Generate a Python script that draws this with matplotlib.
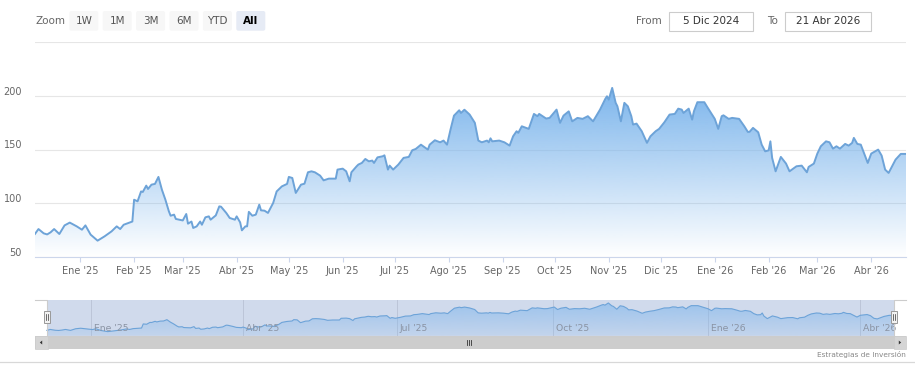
import matplotlib
matplotlib.use("Agg")
import matplotlib.pyplot as plt
import matplotlib.dates as mdates
import matplotlib.colors as mcolors
import matplotlib.transforms as mtransforms
from matplotlib.patches import Rectangle, FancyBboxPatch, Polygon
import numpy as np
import pandas as pd

W, H = 915, 371
MESES = ["Ene", "Feb", "Mar", "Abr", "May", "Jun",
         "Jul", "Ago", "Sep", "Oct", "Nov", "Dic"]

# price series
dates = [
    "2024-12-06", "2024-12-08", "2024-12-11", "2024-12-13", "2024-12-15", "2024-12-17",
    "2024-12-20", "2024-12-23", "2024-12-26", "2024-12-30", "2025-01-02", "2025-01-04",
    "2025-01-07", "2025-01-11", "2025-01-15", "2025-01-19", "2025-01-22", "2025-01-24",
    "2025-01-26", "2025-01-31", "2025-02-01", "2025-02-03", "2025-02-05", "2025-02-06",
    "2025-02-08", "2025-02-09", "2025-02-11", "2025-02-13", "2025-02-15", "2025-02-17",
    "2025-02-19", "2025-02-21", "2025-02-22", "2025-02-24", "2025-02-25", "2025-03-01",
    "2025-03-03", "2025-03-04", "2025-03-06", "2025-03-07", "2025-03-09", "2025-03-11",
    "2025-03-12", "2025-03-14", "2025-03-16", "2025-03-17", "2025-03-20", "2025-03-22",
    "2025-03-23", "2025-03-26", "2025-03-28", "2025-03-31", "2025-04-01", "2025-04-03",
    "2025-04-04", "2025-04-06", "2025-04-07", "2025-04-08", "2025-04-10", "2025-04-12",
    "2025-04-14", "2025-04-15", "2025-04-17", "2025-04-19", "2025-04-22", "2025-04-24",
    "2025-04-27", "2025-04-30", "2025-05-01", "2025-05-03", "2025-05-05", "2025-05-08",
    "2025-05-10", "2025-05-12", "2025-05-14", "2025-05-16", "2025-05-19", "2025-05-21",
    "2025-05-24", "2025-05-28", "2025-05-29", "2025-06-01", "2025-06-03", "2025-06-05",
    "2025-06-06", "2025-06-09", "2025-06-10", "2025-06-12", "2025-06-14", "2025-06-16",
    "2025-06-18", "2025-06-19", "2025-06-21", "2025-06-24", "2025-06-25", "2025-06-27",
    "2025-06-28", "2025-06-30", "2025-07-03", "2025-07-06", "2025-07-09", "2025-07-11",
    "2025-07-13", "2025-07-16", "2025-07-20", "2025-07-21", "2025-07-24", "2025-07-27",
    "2025-07-29", "2025-07-31", "2025-08-02", "2025-08-04", "2025-08-07", "2025-08-08",
    "2025-08-10", "2025-08-13", "2025-08-16", "2025-08-18", "2025-08-20", "2025-08-23",
    "2025-08-24", "2025-08-25", "2025-08-26", "2025-08-30", "2025-09-02", "2025-09-05",
    "2025-09-07", "2025-09-09", "2025-09-10", "2025-09-12", "2025-09-16", "2025-09-19",
    "2025-09-21", "2025-09-22", "2025-09-26", "2025-09-28", "2025-10-02", "2025-10-04",
    "2025-10-06", "2025-10-09", "2025-10-11", "2025-10-14", "2025-10-17", "2025-10-20",
    "2025-10-23", "2025-10-27", "2025-10-30", "2025-10-31", "2025-11-01", "2025-11-03",
    "2025-11-05", "2025-11-06", "2025-11-08", "2025-11-10", "2025-11-12", "2025-11-14",
    "2025-11-15", "2025-11-17", "2025-11-20", "2025-11-23", "2025-11-25", "2025-11-28",
    "2025-11-30", "2025-12-03", "2025-12-06", "2025-12-09", "2025-12-11", "2025-12-13",
    "2025-12-14", "2025-12-17", "2025-12-19", "2025-12-20", "2025-12-22", "2025-12-26",
    "2025-12-28", "2026-01-01", "2026-01-03", "2026-01-05", "2026-01-06", "2026-01-09",
    "2026-01-11", "2026-01-15", "2026-01-18", "2026-01-20", "2026-01-21", "2026-01-23",
    "2026-01-26", "2026-01-28", "2026-01-30", "2026-02-01", "2026-02-02", "2026-02-03",
    "2026-02-05", "2026-02-08", "2026-02-11", "2026-02-13", "2026-02-17", "2026-02-20",
    "2026-02-23", "2026-02-24", "2026-02-27", "2026-03-01", "2026-03-03", "2026-03-06",
    "2026-03-08", "2026-03-10", "2026-03-12", "2026-03-14", "2026-03-17", "2026-03-19",
    "2026-03-21", "2026-03-22", "2026-03-24", "2026-03-26", "2026-03-30", "2026-04-01",
    "2026-04-05", "2026-04-07", "2026-04-09", "2026-04-11", "2026-04-15", "2026-04-18",
    "2026-04-21",
]
prices = [
    71.5, 76, 72, 71, 73, 76,
    71.4, 79.4, 82, 78.5, 75.4, 79.4,
    70.8, 65.2, 69.2, 73.8, 78.5, 76,
    80, 83, 103.3, 101.8, 111, 110.5,
    116.4, 113.3, 117.3, 118, 124.5, 112.6,
    103.3, 92.5, 88.4, 89.4, 85.4, 84,
    90, 81, 83, 77, 78.5, 83,
    80, 86.9, 87.8, 84.7, 88.7, 97.1,
    96.8, 91, 86.3, 84.7, 87.8, 82.2,
    74.8, 78.5, 78.5, 92, 88.4, 89.4,
    98.7, 93.4, 93.1, 91, 100.3, 111,
    115.7, 118, 124.5, 123.5, 109.6, 117.3,
    118.2, 128.8, 129.7, 128.8, 125.7, 121.3,
    122.9, 122.9, 131.3, 132.2, 129.7, 120.4,
    128.8, 134.4, 136, 137.5, 141.2, 139,
    139.7, 137.5, 142.7, 143.7, 144.6, 131.3,
    135, 131.3, 136, 142.2, 143.1, 149.3,
    150.5, 154.5, 149.9, 154.5, 158.6, 156.7,
    158.3, 154.5, 168.5, 181.5, 186.5, 184,
    187, 182.5, 174.8, 158.3, 156.7, 158.3,
    156.7, 160.4, 157.6, 158.3, 156.7, 153.6,
    162.3, 167, 165.5, 171.6, 169.2, 183.1,
    181, 183.1, 178.8, 179.4, 187.1, 174.8,
    181.5, 185.5, 176.2, 179.4, 178.5, 181,
    176.2, 187.1, 197, 199.5, 196.4, 207.3,
    193.4, 190.2, 176.2, 193.4, 190.2, 181,
    173.2, 174.1, 167, 156.2, 162.3, 167,
    169.2, 175.3, 182.5, 183.1, 188, 187.1,
    184, 188, 177.8, 185.5, 194, 194,
    188.7, 178.5, 169.2, 181, 181.8, 178.5,
    179.4, 178.5, 171.6, 166.4, 166.4, 170.1,
    166, 154.5, 148.3, 149.2, 157.6, 142.2,
    129.7, 143.1, 136.9, 129.7, 134.4, 135,
    128.8, 133.8, 136.9, 146.2, 153, 157.6,
    156.7, 150.8, 153, 150.8, 155.2, 153.6,
    156.1, 160.8, 155.2, 154.5, 137.5, 146.2,
    149.9, 144.3, 131.3, 128.2, 140.6, 145.9,
    145.9,
]

zoom_buttons = ["1W", "1M", "3M", "6M", "YTD", "All"]
selected_button = "All"
range_from = "5 Dic 2024"
range_to = "21 Abr 2026"
y_ticks = [50, 100, 150, 200, 250]
main_ticks = pd.date_range("2025-01-01", "2026-04-01", freq="MS")
nav_ticks = pd.date_range("2025-01-01", "2026-04-01", freq="QS")
nav_range = ("2024-11-29", "2026-04-28")
credits = "Estrategias de Inversión"

SERIES = "#7cb5ec"
LINE = "#6da3d8"
GRID = "#e6e6e6"
AXIS = "#ccd6eb"
LABEL = "#666666"


def month_label(d):
    return f"{MESES[d.month - 1]} '{d.strftime('%y')}"


def px_box(x0, y0, x1, y1):
    return [x0 / W, 1 - y1 / H, (x1 - x0) / W, (y1 - y0) / H]


def gradient_area(ax, x, y, base, a_top, a_bot, z):
    verts = [(x[0], base)] + list(zip(x, y)) + [(x[-1], base)]
    clip = Polygon(verts, closed=True, fc="none", ec="none", transform=ax.transData)
    ax.add_patch(clip)
    grad = np.zeros((256, 1, 4))
    grad[..., :3] = mcolors.to_rgb(SERIES)
    grad[..., 3] = np.linspace(a_top, a_bot, 256)[:, None]
    im = ax.imshow(grad, aspect="auto", origin="upper", zorder=z,
                   extent=[x[0], x[-1], base, max(y)], interpolation="bilinear")
    im.set_clip_path(clip)


x = mdates.date2num(pd.to_datetime(dates))
y = np.array(prices)

fig = plt.figure(figsize=(W / 100, H / 100), dpi=100)

# ---- main chart
ax = fig.add_axes(px_box(35, 42, 906, 257))
gradient_area(ax, x, y, 50, 1.0, 0.0, 1)
ax.plot(x, y, color=LINE, lw=1.4, zorder=3, solid_joinstyle="round")
ax.set_xlim(x[0], x[-1])
ax.set_ylim(50, 250)

for v in y_ticks:
    ax.axhline(v, color=GRID, lw=0.8, zorder=0)
up = mtransforms.ScaledTranslation(0, 0.04, fig.dpi_scale_trans)
for v in y_ticks[:-1]:
    ax.text(-13 / 871, v, str(v), transform=ax.get_yaxis_transform() + up,
            ha="right", va="center", fontsize=7, color=LABEL)
ax.set_yticks([])

ax.set_xticks(mdates.date2num(main_ticks))
ax.set_xticklabels([month_label(d) for d in main_ticks])
ax.tick_params(axis="x", length=3.6, width=0.8, color=AXIS, pad=3,
               labelsize=7, labelcolor=LABEL)
for s in ["top", "left", "right"]:
    ax.spines[s].set_visible(False)
ax.spines["bottom"].set_color(AXIS)
ax.spines["bottom"].set_linewidth(0.8)

# ---- navigator
nav = fig.add_axes(px_box(35, 300, 906, 335.7))
nav.set_axis_off()
nav.axvspan(x[0], x[-1], color=(102 / 255, 133 / 255, 194 / 255, 0.3), lw=0, zorder=0)
for t in mdates.date2num(nav_ticks):
    nav.axvline(t, color="#bcc5d8", lw=0.7, zorder=1)
gradient_area(nav, x, y, 45, 0.6, 0.15, 2)
nav.plot(x, y, color=LINE, lw=0.8, zorder=3)
right = mtransforms.ScaledTranslation(0.03, 0, fig.dpi_scale_trans)
for d in nav_ticks:
    nav.text(mdates.date2num(d), 0.19, month_label(d), transform=nav.get_xaxis_transform() + right,
             ha="left", va="center", fontsize=6.7, color="#8a93a3", zorder=4)
nav.set_xlim(mdates.date2num(pd.to_datetime(nav_range[0])), mdates.date2num(pd.to_datetime(nav_range[1])))
nav.set_ylim(45, 222)

# ---- overlay in pixel coordinates
ui = fig.add_axes([0, 0, 1, 1])
ui.set_xlim(0, W)
ui.set_ylim(H, 0)
ui.set_axis_off()

fig.canvas.draw()
lo = nav.transData.transform((x[0], 100))[0]
hi = nav.transData.transform((x[-1], 100))[0]

# range selector
ui.text(36, 20.5, "Zoom", ha="left", va="center", fontsize=7.5, color=LABEL)
for i, lbl in enumerate(zoom_buttons):
    bx = 69.3 + i * 33.4
    sel = lbl == selected_button
    ui.add_patch(FancyBboxPatch((bx, 11), 29, 19.7, boxstyle="round,pad=0,rounding_size=2",
                                fc="#e6ebf5" if sel else "#f7f7f7", ec="none"))
    ui.text(bx + 14.5, 20.8, lbl, ha="center", va="center", fontsize=7.5,
            color="#000000" if sel else "#555555", fontweight="bold" if sel else "normal")

ui.text(662, 20.8, "From", ha="right", va="center", fontsize=7.5, color=LABEL)
ui.add_patch(Rectangle((669, 11.7), 84, 19, fc="white", ec="#cccccc", lw=0.8))
ui.text(711, 21, range_from, ha="center", va="center", fontsize=7.5, color="#333333")
ui.text(778, 20.8, "To", ha="right", va="center", fontsize=7.5, color=LABEL)
ui.add_patch(Rectangle((785, 11.7), 86, 19, fc="white", ec="#cccccc", lw=0.8))
ui.text(828, 21, range_to, ha="center", va="center", fontsize=7.5, color="#333333")

# navigator outline + handles
ui.plot([35, lo, lo, hi, hi, 906], [300, 300, 335.7, 335.7, 300, 300],
        color="#cccccc", lw=0.8)
for hx in (lo, hi):
    ui.add_patch(Rectangle((hx - 2.8, 310.7), 5.6, 12.3, fc="#f2f2f2", ec="#999999", lw=0.7, zorder=5))
    ui.plot([hx - 0.8, hx - 0.8], [313.5, 320.2], color="#333333", lw=0.5, zorder=6)
    ui.plot([hx + 0.8, hx + 0.8], [313.5, 320.2], color="#333333", lw=0.5, zorder=6)

# scrollbar
ui.add_patch(Rectangle((35, 335.7), 871, 13.6, fc="#cdcdcd", ec="none"))
ui.add_patch(Rectangle((35, 335.7), 12.5, 13.6, fc="#d5d5d5", ec="#cccccc", lw=0.5))
ui.add_patch(Rectangle((893.5, 335.7), 12.5, 13.6, fc="#d5d5d5", ec="#cccccc", lw=0.5))
ui.add_patch(Polygon([[39.8, 342.5], [42.2, 340.5], [42.2, 344.5]], closed=True, fc="#333333", ec="none"))
ui.add_patch(Polygon([[901.2, 342.5], [898.8, 340.5], [898.8, 344.5]], closed=True, fc="#333333", ec="none"))
for gx in (466.5, 468.5, 470.5):
    ui.plot([gx, gx], [340, 345], color="#333333", lw=0.6)

# footer
ui.plot([0, W], [361.7, 361.7], color="#d8d8d8", lw=0.9)
ui.text(906, 354.5, credits, ha="right", va="center", fontsize=5.3, color="#888888")

fig.savefig("out.png", dpi=100)
